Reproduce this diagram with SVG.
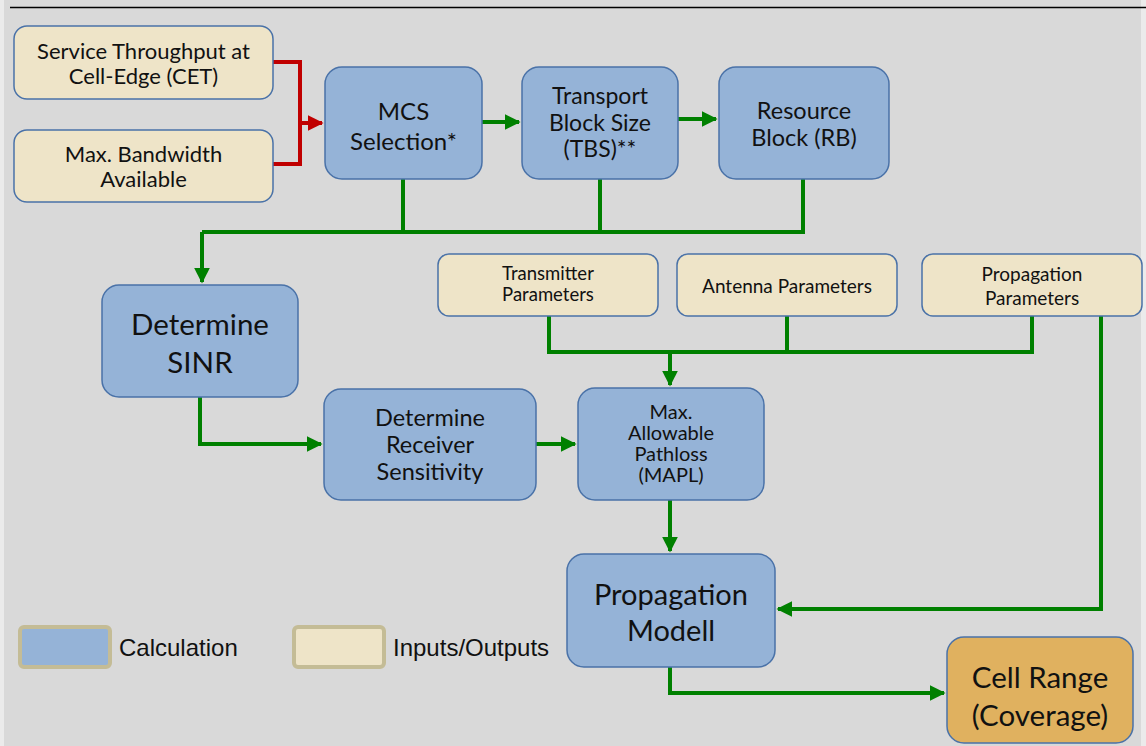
<svg xmlns="http://www.w3.org/2000/svg" width="1146" height="746" viewBox="0 0 1146 746">
  <defs>
    <marker id="ah-green" viewBox="0 0 10 10" refX="9" refY="5" markerWidth="4" markerHeight="4" markerUnits="strokeWidth" orient="auto">
      <path d="M0,0 L10,5 L0,10 z" fill="#008000"/>
    </marker>
    <marker id="ah-red" viewBox="0 0 10 10" refX="9" refY="5" markerWidth="4" markerHeight="4" markerUnits="strokeWidth" orient="auto">
      <path d="M0,0 L10,5 L0,10 z" fill="#c00000"/>
    </marker>
    <style>
      .calc { fill: #95b3d7; stroke: #4a72a8; stroke-width: 1.5; }
      .io { fill: #eee4c8; stroke: #4a72a8; stroke-width: 1.5; }
      .out { fill: #e0b15f; stroke: #4a72a8; stroke-width: 1.5; }
      .t { font-family: Lato, "Open Sans", "Liberation Sans", sans-serif; fill: #111; text-anchor: middle; dominant-baseline: central; }
      .g { fill: none; stroke: #008000; stroke-width: 4; stroke-linejoin: miter; }
      .r { fill: none; stroke: #c00000; stroke-width: 4; stroke-linejoin: miter; }
      .leg { stroke: #c4bc96; stroke-width: 4; }
      .legt { font-family: "Liberation Sans", Arial, sans-serif; font-size: 24px; fill: #111; dominant-baseline: central; }
    </style>
  </defs>

  <!-- page background -->
  <rect x="0" y="0" width="1146" height="746" fill="#ebebeb"/>
  <rect x="4" y="0" width="1137" height="746" fill="#d9d9d9"/>
  <line x1="10" y1="7.5" x2="1146" y2="7.5" stroke="#000" stroke-width="1.5"/>

  <!-- connectors -->
  <g id="connectors">
    <path class="r" d="M273,62 H300 V164 H273"/>
    <path class="r" d="M300,123 H322" marker-end="url(#ah-red)"/>
    <path class="g" d="M482,122 H519" marker-end="url(#ah-green)"/>
    <path class="g" d="M678,119 H716" marker-end="url(#ah-green)"/>
    <path class="g" d="M403,179 V232 M600,179 V232 M803,179 V232 H202"/>
    <path class="g" d="M202,232 V282" marker-end="url(#ah-green)"/>
    <path class="g" d="M200,397 V444 H321" marker-end="url(#ah-green)"/>
    <path class="g" d="M536,444 H575" marker-end="url(#ah-green)"/>
    <path class="g" d="M549,316 V352 H1032 V316 M787,316 V352"/>
    <path class="g" d="M670,352 V385" marker-end="url(#ah-green)"/>
    <path class="g" d="M670,500 V551" marker-end="url(#ah-green)"/>
    <path class="g" d="M1101,315 V609 H778" marker-end="url(#ah-green)"/>
    <path class="g" d="M670,667 V693 H944" marker-end="url(#ah-green)"/>
  </g>

  <g id="node-cet">
    <rect class="io" x="14" y="26" width="259" height="73" rx="13"/>
    <text class="t" font-size="22" x="143.5" y="50">Service Throughput at</text>
    <text class="t" font-size="22" x="143.5" y="75">Cell-Edge (CET)</text>
  </g>
  <g id="node-bandwidth">
    <rect class="io" x="14" y="130" width="259" height="72" rx="13"/>
    <text class="t" font-size="22" x="143.5" y="153">Max. Bandwidth</text>
    <text class="t" font-size="22" x="143.5" y="178">Available</text>
  </g>
  <g id="node-mcs">
    <rect class="calc" x="325" y="67" width="157" height="112" rx="17"/>
    <text class="t" font-size="24" x="403.5" y="110">MCS</text>
    <text class="t" font-size="24" x="403.5" y="140">Selection*</text>
  </g>
  <g id="node-tbs">
    <rect class="calc" x="522" y="67" width="156" height="112" rx="17"/>
    <text class="t" font-size="23" x="600" y="95">Transport</text>
    <text class="t" font-size="23" x="600" y="122">Block Size</text>
    <text class="t" font-size="23" x="600" y="148">(TBS)**</text>
  </g>
  <g id="node-rb">
    <rect class="calc" x="719" y="67" width="170" height="112" rx="17"/>
    <text class="t" font-size="23.5" x="804" y="110">Resource</text>
    <text class="t" font-size="23.5" x="804" y="137">Block (RB)</text>
  </g>
  <g id="node-sinr">
    <rect class="calc" x="102" y="285" width="196" height="112" rx="17"/>
    <text class="t" font-size="29.5" x="200" y="323">Determine</text>
    <text class="t" font-size="29.5" x="200" y="361">SINR</text>
  </g>
  <g id="node-transmitter">
    <rect class="io" x="438" y="254" width="220" height="62" rx="11"/>
    <text class="t" font-size="18.5" x="548" y="273">Transmitter</text>
    <text class="t" font-size="18.5" x="548" y="294">Parameters</text>
  </g>
  <g id="node-antenna">
    <rect class="io" x="677" y="254" width="220" height="62" rx="11"/>
    <text class="t" font-size="19" x="787" y="285">Antenna Parameters</text>
  </g>
  <g id="node-propagation-params">
    <rect class="io" x="922" y="254" width="220" height="62" rx="11"/>
    <text class="t" font-size="19" x="1032" y="273">Propagation</text>
    <text class="t" font-size="19" x="1032" y="297">Parameters</text>
  </g>
  <g id="node-receiver">
    <rect class="calc" x="324" y="389" width="212" height="111" rx="17"/>
    <text class="t" font-size="23.5" x="430" y="417">Determine</text>
    <text class="t" font-size="23.5" x="430" y="444">Receiver</text>
    <text class="t" font-size="23.5" x="430" y="471">Sensitivity</text>
  </g>
  <g id="node-mapl">
    <rect class="calc" x="578" y="388" width="186" height="112" rx="17"/>
    <text class="t" font-size="20" x="671" y="411">Max.</text>
    <text class="t" font-size="20" x="671" y="432">Allowable</text>
    <text class="t" font-size="20" x="671" y="453">Pathloss</text>
    <text class="t" font-size="20" x="671" y="474">(MAPL)</text>
  </g>
  <g id="node-propagation-model">
    <rect class="calc" x="567" y="554" width="208" height="113" rx="17"/>
    <text class="t" font-size="29" x="671" y="593">Propagation</text>
    <text class="t" font-size="29" x="671" y="629">Modell</text>
  </g>
  <g id="node-cell-range">
    <rect class="out" x="947" y="637" width="186" height="106" rx="17"/>
    <text class="t" font-size="29.5" x="1040" y="676">Cell Range</text>
    <text class="t" font-size="29.5" x="1040" y="714">(Coverage)</text>
  </g>

  <!-- legend -->
  <g id="legend">
    <rect class="leg" x="20" y="627" width="90" height="40" rx="4" fill="#95b3d7"/>
    <text class="legt" x="119" y="647">Calculation</text>
    <rect class="leg" x="294" y="627" width="90" height="40" rx="4" fill="#eee4c8"/>
    <text class="legt" x="393" y="647">Inputs/Outputs</text>
  </g>
</svg>
